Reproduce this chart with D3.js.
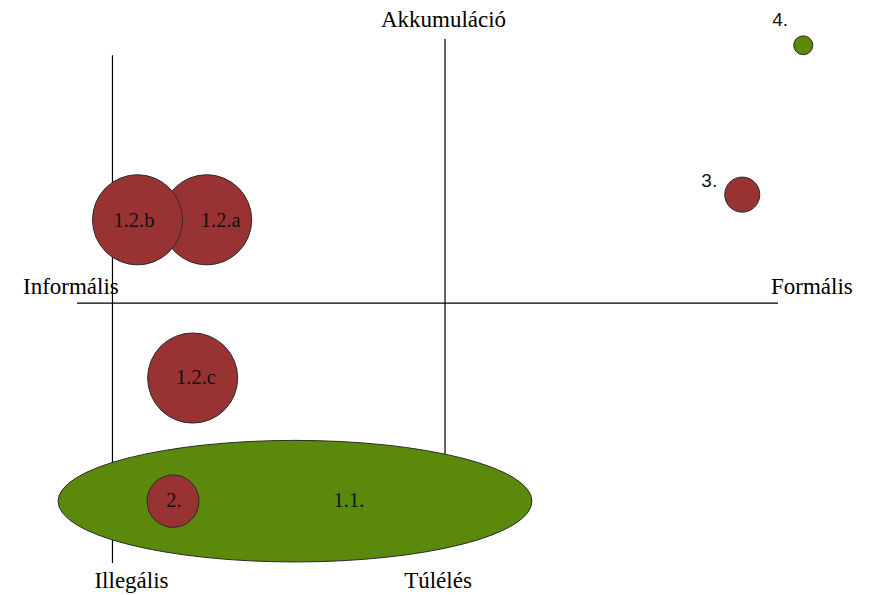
<!DOCTYPE html>
<html>
<head>
<meta charset="utf-8">
<script src="https://cdn.jsdelivr.net/npm/d3@7"></script>
<style>
  body { margin: 0; background: #fff; }
  svg { display: block; }
  .serif { font-family: "Liberation Serif", "DejaVu Serif", "Times New Roman", serif; }
  .sans { font-family: "Liberation Sans", Arial, sans-serif; }
</style>
</head>
<body>
<svg width="872" height="595"></svg>
<script>
// diagram units: x 0..100 informális -> formális, y 0..100 túlélés -> akkumuláció
let xAxisLabels = ['Informális', 'Formális']
let yAxisLabels = ['Túlélés', 'Akkumuláció']
let legalLabel = 'Illegális'

let xAxisY = 49.6          // horizontal axis position (y units)
let axisXs = [5.06, 52.5]  // vertical lines (x units)
let lineTops = [96.9, 100]
let lineBottoms = [0, 11.8]

let bubbleNames = ['1.1.', '1.2.a', '1.2.b', '1.2.c', '2.', '3.', '4.']
let bubbleX = [31.1, 18.5, 8.63, 16.5, 13.7, 94.9, 103.6]
let bubbleY = [11.8, 65.5, 65.5, 35.3, 11.8, 70.3, 98.8]
let bubbleRx = [33.8, 6.42, 6.42, 6.42, 3.7, 2.5, 1.36]
let bubbleRy = [11.6, 8.6, 8.6, 8.6, 5.0, 3.35, 1.8]
let bubbleKind = ['green', 'red', 'red', 'red', 'red', 'red', 'green']
let labelX = [38.8, 20.5, 8.13, 16.98, 13.84, 90.2, 100.3]
let labelY = [10.7, 64.1, 64.1, 34.2, 10.7, 71.8, 102.5]

const svg = d3.select('svg')

const xScale = d3.scaleLinear().domain([0, 100]).range([77, 778])
const yScale = d3.scaleLinear().domain([0, 100]).range([563, 39])
const color = d3.scaleOrdinal().domain(['red', 'green']).range(['#993333', '#5a890c'])

// axes lines
svg.append('line')
  .attr('x1', xScale(0)).attr('x2', xScale(100))
  .attr('y1', yScale(xAxisY)).attr('y2', yScale(xAxisY))
  .attr('stroke', '#000').attr('stroke-width', 1.2)

svg.selectAll('line.v')
  .data(axisXs)
  .enter().append('line')
  .attr('class', 'v')
  .attr('x1', d => xScale(d)).attr('x2', d => xScale(d))
  .attr('y1', (d, i) => yScale(lineTops[i]))
  .attr('y2', (d, i) => yScale(lineBottoms[i]))
  .attr('stroke', '#000').attr('stroke-width', 1.2)

let data = bubbleNames.map((n, i) => ({
  name: n, x: bubbleX[i], y: bubbleY[i], rx: bubbleRx[i], ry: bubbleRy[i],
  kind: bubbleKind[i], lx: labelX[i], ly: labelY[i]
}))

let rScaleX = v => xScale(v) - xScale(0)
let rScaleY = v => yScale(0) - yScale(v)

svg.selectAll('ellipse')
  .data(data)
  .enter().append('ellipse')
  .attr('cx', d => xScale(d.x))
  .attr('cy', d => yScale(d.y))
  .attr('rx', d => rScaleX(d.rx))
  .attr('ry', d => rScaleY(d.ry))
  .attr('fill', d => color(d.kind))
  .attr('stroke', '#2a2a2a')
  .attr('stroke-width', 1)

// labels inside the big shapes (serif), small ones outside (sans)
svg.selectAll('text.bubble')
  .data(data)
  .enter().append('text')
  .attr('class', d => d.rx > 3 ? 'bubble serif' : 'bubble sans')
  .attr('x', d => xScale(d.lx))
  .attr('y', d => yScale(d.ly))
  .attr('text-anchor', 'middle')
  .attr('font-size', d => d.rx > 3 ? 20.5 : 19)
  .attr('fill', '#111')
  .text(d => d.name)

// axis end labels
function label(t, x, y, anchor) {
  svg.append('text')
    .attr('class', 'serif')
    .attr('x', x).attr('y', y)
    .attr('text-anchor', anchor)
    .attr('font-size', 23)
    .attr('fill', '#000')
    .text(t)
}
label(xAxisLabels[0], 23, 294, 'start')
label(xAxisLabels[1], 771, 294, 'start')
label(yAxisLabels[1], 443.5, 27, 'middle')
label(yAxisLabels[0], 438, 588, 'middle')
label(legalLabel, 131.5, 588, 'middle')
</script>
</body>
</html>
